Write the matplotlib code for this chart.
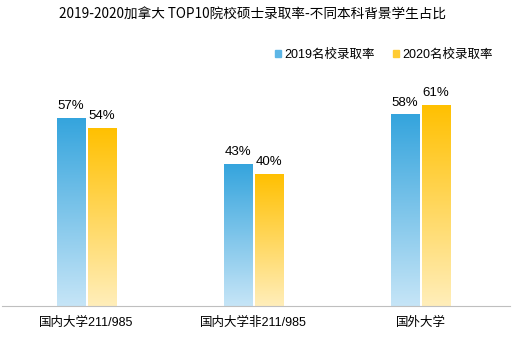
import numpy as np
import matplotlib
matplotlib.use("Agg")
from matplotlib import pyplot as plt
from matplotlib.colors import LinearSegmentedColormap
from matplotlib.patches import Patch

plt.rcParams['font.family'] = ['Liberation Sans', 'Noto Sans CJK SC', 'DejaVu Sans']

categories = ["国内大学211/985", "国内大学非211/985", "国外大学"]
rate_2019 = [57, 43, 58]
rate_2020 = [54, 40, 61]
series_names = ["2019名校录取率", "2020名校录取率"]

blue_cmap = LinearSegmentedColormap.from_list("b", ["#C6E5F7", "#34A4DD"])
orange_cmap = LinearSegmentedColormap.from_list("o", ["#FFEEBA", "#FFC000"])

fig = plt.figure(figsize=(5.12, 3.42), dpi=100)
ax = fig.add_axes([2 / 512, 36 / 342, 508 / 512, 250 / 342])

x = np.arange(len(categories))
w = 0.168
off = 0.093

grad = np.linspace(0, 1, 256).reshape(-1, 1)


def gradient_bars(xs, vals, cmap):
    bars = ax.bar(xs, vals, width=w, color="none", edgecolor="none")
    for b, v in zip(bars, vals):
        x0 = b.get_x()
        im = ax.imshow(grad, cmap=cmap, origin="lower", aspect="auto",
                       extent=[x0, x0 + w, 0, v], zorder=2)
        im.set_clip_path(b)
        ax.annotate(f"{v}%", (x0 + w / 2, v), xytext=(0, 4), textcoords="offset points",
                    ha="center", va="bottom", fontsize=9.5)
    return bars


gradient_bars(x - off, rate_2019, blue_cmap)
gradient_bars(x + off, rate_2020, orange_cmap)

ax.set_xlim(-0.506, 2.536)
ax.set_ylim(0, 75.7)
ax.set_xticks(x)
ax.set_xticklabels(categories, fontsize=9)
ax.tick_params(axis="x", length=0, pad=8)
ax.set_yticks([])
for s in ["top", "left", "right"]:
    ax.spines[s].set_visible(False)
ax.spines["bottom"].set_color("#BFBFBF")

handles = [Patch(color="#5DB6E6"), Patch(color="#FFCB33")]
fig.legend(handles, series_names, loc="center right", bbox_to_anchor=(0.985, 287 / 342),
           ncol=2, frameon=False, fontsize=9, handlelength=0.5, handleheight=0.5,
           handletextpad=0.25, columnspacing=1.5)

fig.text(0.494, 327 / 342, "2019-2020加拿大 TOP10院校硕士录取率-不同本科背景学生占比",
         ha="center", va="center", fontsize=9.8, fontweight="medium",
         family=['Noto Sans CJK SC', 'DejaVu Sans'])

fig.savefig("out.png", dpi=100)
